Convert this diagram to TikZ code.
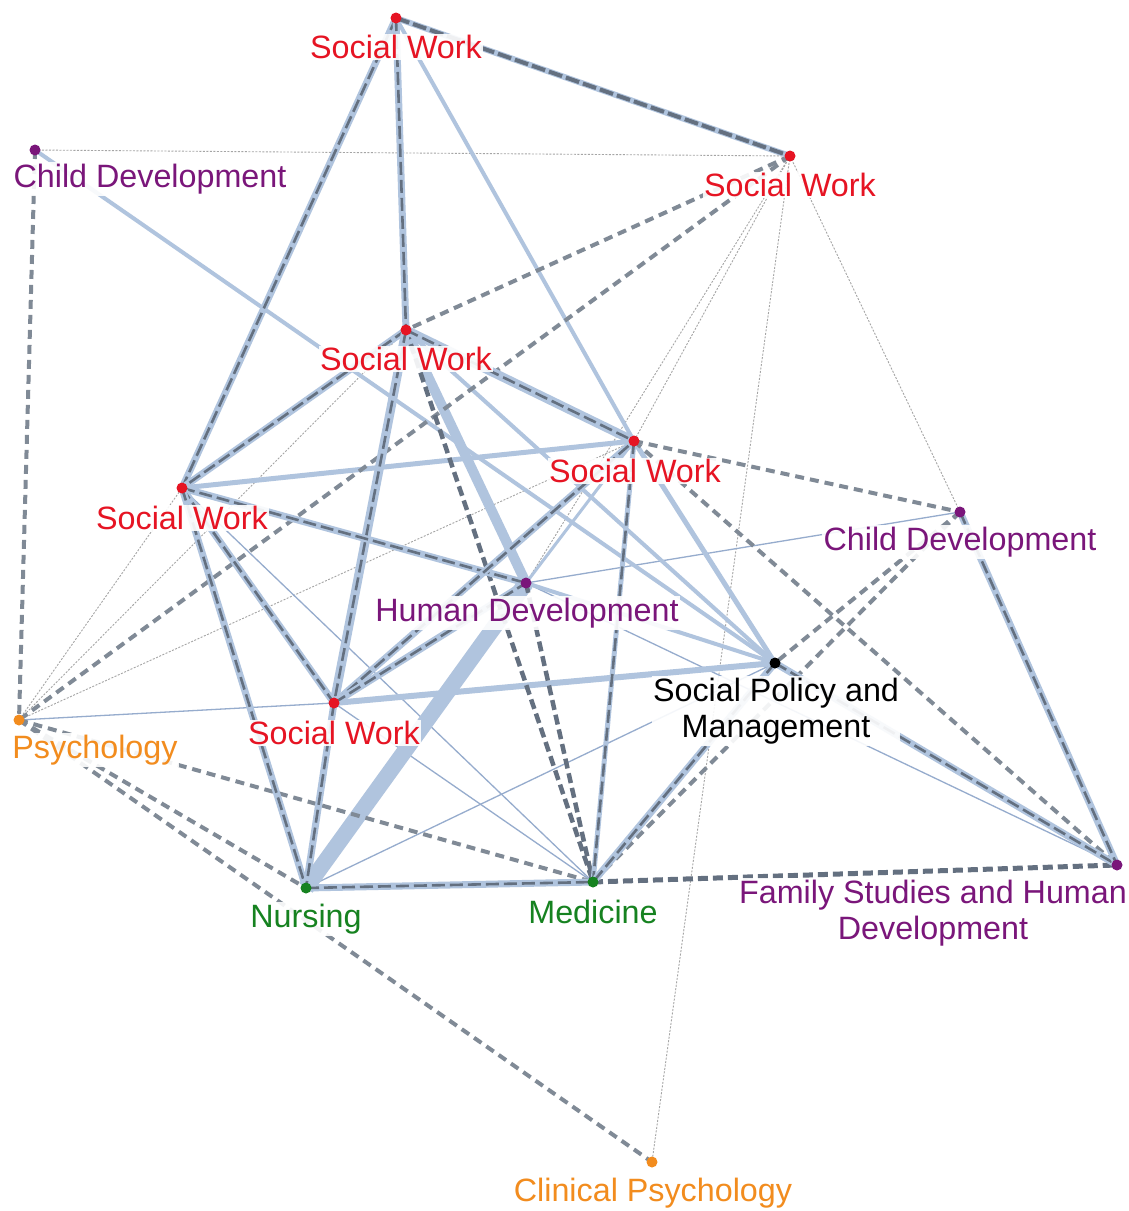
\documentclass[tikz,border=0pt]{standalone}
\usepackage{fontspec}
\setmainfont{Liberation Sans}
\usetikzlibrary{backgrounds}
\definecolor{eblue}{RGB}{176,196,222}
\definecolor{tblue}{RGB}{150,172,205}
\definecolor{egray}{RGB}{128,138,150}
\definecolor{edark}{RGB}{100,112,128}
\definecolor{ered}{RGB}{230,20,35}
\definecolor{epurple}{RGB}{122,22,122}
\definecolor{egreen}{RGB}{22,130,32}
\definecolor{eorange}{RGB}{242,140,30}
\definecolor{dotgray}{RGB}{165,165,165}
\begin{document}
\begin{tikzpicture}[x=1pt,y=-1pt,
  vtx/.style={circle, inner sep=0pt, minimum size=11pt},
  lbl/.style={fill=white, fill opacity=0.9, text opacity=1, inner sep=1.5pt, font=\fontsize{32.3}{36}\selectfont, align=center},
  bl/.style={draw=eblue, line width=#1}, bl/.default=4,
  tb/.style={draw=tblue, line width=1.3},
  dsh/.style={draw=egray, line width=4, dash pattern=on 9 off 6},
  ddk/.style={draw=edark, line width=4.5, dash pattern=on 10 off 5},
  cmb/.style={draw=eblue, line width=7, postaction={draw=edark, line width=2.6, dash pattern=on 13 off 5}},
  dtt/.style={draw=dotgray, line width=0.9, dash pattern=on 2 off 1.5}
]
\useasboundingbox (0,0) rectangle (1129,1211);

% vertices
\node[vtx, fill=ered] (sw1) at (396,18) {};
\node[vtx, fill=ered] (sw2) at (790,156) {};
\node[vtx, fill=epurple] (cd1) at (35,150) {};
\node[vtx, fill=ered] (sw3) at (406,330) {};
\node[vtx, fill=ered] (sw4) at (634,441) {};
\node[vtx, fill=ered] (sw5) at (182,488) {};
\node[vtx, fill=epurple] (cd2) at (960,512) {};
\node[vtx, fill=epurple] (hd) at (526,583) {};
\node[vtx, fill=black] (spm) at (775,663) {};
\node[vtx, fill=ered] (sw6) at (334,703) {};
\node[vtx, fill=eorange] (psy) at (19,720) {};
\node[vtx, fill=egreen] (nur) at (306,888) {};
\node[vtx, fill=egreen] (med) at (593,882) {};
\node[vtx, fill=epurple] (fshd) at (1117,865) {};
\node[vtx, fill=eorange] (cp) at (652,1162) {};

\begin{pgfonlayer}{background}
\fill[white] (0,0) rectangle (1129,1211);
% dotted
\draw[dtt] (cd1.center) -- (sw2.center);
\draw[dtt] (sw2.center) -- (cp.center);
\draw[dtt] (sw2.center) -- (cd2.center);
\draw[dtt] (sw2.center) -- (sw4.center);
\draw[dtt] (sw2.center) -- (hd.center);
\draw[dtt] (psy.center) -- (sw5.center);
\draw[dtt] (psy.center) -- (sw3.center);
\draw[dtt] (psy.center) -- (sw4.center);
% thin blue
\draw[tb] (psy.center) -- (sw6.center);
\draw[tb] (hd.center) -- (cd2.center);
\draw[tb] (hd.center) -- (fshd.center);
\draw[tb] (sw5.center) -- (med.center);
\draw[tb] (sw6.center) -- (med.center);
\draw[tb] (nur.center) -- (spm.center);
% blue
\draw[bl=16] (hd.center) -- (nur.center);
\draw[bl=10] (sw3.center) -- (hd.center);
\draw[bl=4] (sw1.center) -- (sw4.center);
\draw[bl=4] (cd1.center) -- (spm.center);
\draw[bl=5] (sw5.center) -- (sw4.center);
\draw[bl=5] (sw4.center) -- (spm.center);
\draw[bl=4] (sw3.center) -- (spm.center);
\draw[bl=4] (hd.center) -- (spm.center);
\draw[bl=6] (sw6.center) -- (spm.center);
\draw[bl=3] (sw4.center) -- (hd.center);
% dashed
\draw[dsh] (cd1.center) -- (psy.center);
\draw[dsh] (sw2.center) -- (sw3.center);
\draw[dsh] (sw2.center) -- (psy.center);
\draw[dsh] (psy.center) -- (nur.center);
\draw[dsh] (psy.center) -- (cp.center);
\draw[dsh] (psy.center) -- (med.center);
\draw[ddk] (sw3.center) -- (med.center);
\draw[ddk] (hd.center) -- (med.center);
\draw[dsh] (sw4.center) -- (cd2.center);
\draw[dsh] (sw4.center) -- (fshd.center);
\draw[dsh] (cd2.center) -- (spm.center);
\draw[dsh] (cd2.center) -- (med.center);
\draw[ddk, line width=5] (med.center) -- (fshd.center);
% combos
\draw[draw=eblue, line width=6, postaction={draw=edark, line width=4, dash pattern=on 14 off 4}] (sw1.center) -- (sw2.center);
\draw[cmb] (sw1.center) -- (sw5.center);
\draw[cmb] (sw1.center) -- (sw3.center);
\draw[cmb, line width=9] (sw3.center) -- (sw4.center);
\draw[cmb] (sw3.center) -- (sw5.center);
\draw[cmb, line width=9] (sw3.center) -- (sw6.center);
\draw[cmb] (sw5.center) -- (hd.center);
\draw[cmb] (sw5.center) -- (sw6.center);
\draw[cmb] (sw5.center) -- (nur.center);
\draw[cmb] (sw6.center) -- (sw4.center);
\draw[cmb] (sw6.center) -- (hd.center);
\draw[cmb] (sw6.center) -- (nur.center);
\draw[cmb, line width=5] (sw4.center) -- (med.center);
\draw[cmb] (nur.center) -- (med.center);
\draw[cmb] (spm.center) -- (med.center);
\draw[cmb] (spm.center) -- (fshd.center);
\draw[cmb] (cd2.center) -- (fshd.center);
\end{pgfonlayer}

% labels
\node[lbl, text=ered] (lsw1) at (396,47) {Social Work};
\node[lbl, text=ered] (lsw2) at (790,185) {Social Work};
\node[lbl, text=epurple] (lcd1) at (150,179) {Child Development};
\node[lbl, text=ered] (lsw3) at (406,359) {Social Work};
\node[lbl, text=ered] (lsw4) at (635,471) {Social Work};
\node[lbl, text=ered] (lsw5) at (182,518) {Social Work};
\node[lbl, text=epurple] (lcd2) at (960,542) {Child Development};
\node[lbl, text=epurple] (lhd) at (527,613) {Human Development};
\node[lbl, text=black] (lspm) at (776,711) {Social Policy and\\Management};
\node[lbl, text=ered] (lsw6) at (334,733) {Social Work};
\node[lbl, text=eorange] (lpsy) at (95,750) {Psychology};
\node[lbl, text=egreen] (lnur) at (306,919) {Nursing};
\node[lbl, text=egreen] (lmed) at (593,912) {Medicine};
\node[lbl, text=epurple] (lfshd) at (933,913) {Family Studies and Human\\Development};
\node[lbl, text=eorange] (lcp) at (653,1193) {Clinical Psychology};
\end{tikzpicture}
\end{document}
